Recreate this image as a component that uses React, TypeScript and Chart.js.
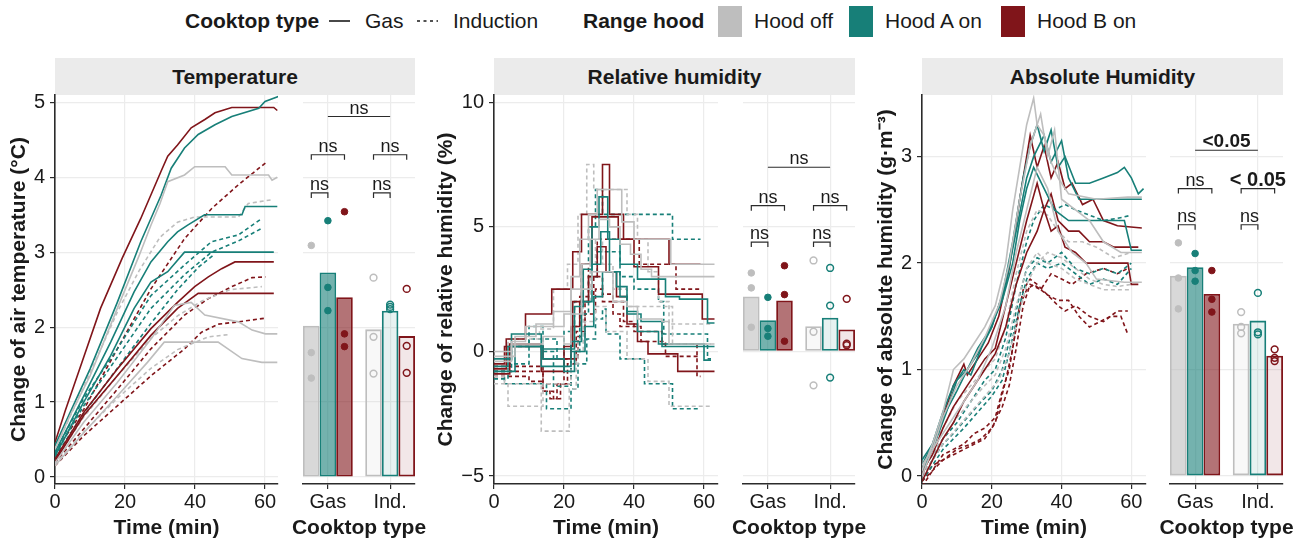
import React, { useEffect, useRef } from 'react';
import { Chart, registerables } from 'chart.js';

Chart.register(...registerables);

const FONT = "'Liberation Sans', Arial, Helvetica, sans-serif";
const TEXT = '#1a1a1a';
const AXIS = '#2b2b2b';
const GRID = '#ececec';
const GRAY = '#bebebe';
const TEAL = '#177f78';
const RED = '#80151a';
const HOOD_COLORS = [GRAY, TEAL, RED];
const HOODS = ['Hood off', 'Hood A on', 'Hood B on'];
const COOKTOPS = ['Gas', 'Ind.'];
const GROUP_WIDTH = 0.8;

// ---------------- Temperature (time series: [min, °C]) ----------------
const TEMP_GAS_OFF = [
  [[0, 0.37], [4.3, 0.82], [10, 1.35], [17.8, 2.25], [24, 2.95], [27.4, 3.36], [30, 3.65], [32.2, 3.94], [37, 4.03], [39.9, 4.14], [48.6, 4.14], [50.5, 4.03], [61, 4.03], [62, 3.96], [63.5, 4.0]],
  [[0, 0.19], [8.2, 0.73], [17.8, 1.26], [27.4, 1.84], [34.1, 2.29], [38.9, 2.33], [42.8, 2.16], [52.4, 2.07], [56.3, 1.96], [60.1, 1.91], [63.5, 1.91]],
  [[0, 0.15], [8.2, 0.59], [17.8, 1.08], [26.4, 1.53], [31.2, 1.8], [46.6, 1.8], [53.4, 1.58], [59.1, 1.53], [63.5, 1.53]],
];
const TEMP_GAS_A = [
  [[0, 0.42], [4.3, 0.86], [10, 1.44], [17.8, 2.33], [24.5, 3.14], [30.3, 3.76], [33.2, 4.12], [37, 4.39], [40.9, 4.57], [45.7, 4.7], [50.5, 4.81], [58.2, 4.92], [60, 5.01], [63.9, 5.08]],
  [[0, 0.33], [8.2, 1.08], [15.9, 1.8], [22.6, 2.47], [27.4, 2.87], [32.2, 3.14], [35, 3.27], [37.9, 3.36], [42.7, 3.5], [53.4, 3.5], [54.3, 3.61], [63.5, 3.61]],
  [[0, 0.28], [8.2, 1.0], [15.9, 1.62], [22.6, 2.25], [27.4, 2.6], [32.2, 2.74], [37, 3.0], [62.5, 3.0]],
];
const TEMP_GAS_B = [
  [[0, 0.46], [2.9, 0.88], [7.7, 1.53], [13, 2.25], [19.2, 2.92], [24.5, 3.45], [30.3, 4.08], [32.2, 4.28], [35, 4.43], [38.9, 4.66], [42.8, 4.77], [45.7, 4.86], [50.5, 4.93], [62.5, 4.93], [63.5, 4.89]],
  [[0, 0.24], [8.2, 0.86], [17.8, 1.44], [27.4, 1.98], [35, 2.33], [39.9, 2.54], [43.8, 2.67], [47.6, 2.78], [51.4, 2.87], [62.5, 2.87]],
  [[0, 0.21], [8.2, 0.82], [17.8, 1.35], [27.4, 1.89], [35, 2.25], [40.9, 2.45], [62.5, 2.45]],
];
const TEMP_IND_OFF = [
  [[0, 0.37], [8.2, 1.2], [17.8, 2.2], [24, 2.75], [30, 3.2], [35, 3.4], [40, 3.47], [52.4, 3.47], [55.2, 3.65], [62, 3.7]],
  [[0, 0.22], [8.2, 0.8], [17.8, 1.35], [27.4, 1.85], [35, 2.15], [42, 2.35], [50, 2.5], [59.1, 2.54]],
  [[0, 0.17], [8.2, 0.6], [17.8, 1.05], [27.4, 1.45], [35, 1.7], [43.8, 1.87], [49.5, 1.9]],
];
const TEMP_IND_A = [
  [[0, 0.33], [8.2, 1.05], [17.8, 1.71], [27.4, 2.42], [37, 2.83], [44.7, 3.14], [52.4, 3.23], [59.1, 3.45]],
  [[0, 0.3], [8.2, 0.95], [17.8, 1.6], [27.4, 2.25], [37, 2.7], [44.7, 3.0], [52.4, 3.15], [59.1, 3.32]],
  [[0, 0.27], [8.2, 0.85], [17.8, 1.45], [27.4, 2.05], [35, 2.5], [41, 2.8], [45, 2.95]],
];
const TEMP_IND_B = [
  [[0, 0.33], [8.2, 0.9], [17.8, 1.71], [27.4, 2.51], [37, 3.18], [44.7, 3.58], [52.4, 3.9], [60.1, 4.19]],
  [[0, 0.19], [17.8, 1.17], [27.4, 1.71], [37, 2.16], [43.8, 2.38], [50.5, 2.54], [56.3, 2.66], [60.1, 2.67]],
  [[0, 0.15], [8.2, 0.55], [17.8, 0.95], [27.4, 1.35], [37, 1.71], [41.8, 1.93], [46.6, 2.04], [52.4, 2.07], [60.1, 2.12]],
];
// bar means [off, A, B] and replicate points
const TEMP_MEAN_GAS = [2.02, 2.73, 2.4];
const TEMP_MEAN_IND = [1.97, 2.22, 1.88];
const TEMP_PTS_GAS = [[3.09, 1.66, 1.32], [3.42, 2.53, 2.22], [3.54, 1.91, 1.74]];
const TEMP_PTS_IND = [[2.66, 1.87, 1.38], [2.3, 2.27, 2.24], [2.51, 1.75, 1.39]];
const TEMP_SIG = [
  { a: [1, 1], b: [2, 1], y: 4.81, label: 'ns', tips: false },
  { a: [1, 0], b: [1, 2], y: 4.3, label: 'ns', tips: true },
  { a: [2, 0], b: [2, 2], y: 4.3, label: 'ns', tips: true },
  { a: [1, 0], b: [1, 1], y: 3.79, label: 'ns', tips: true },
  { a: [2, 0], b: [2, 1], y: 3.79, label: 'ns', tips: true },
];

// ---------------- Relative humidity (step series: [min, %]) ----------------
const RH_GAS_OFF = [
  [[0, 0], [5, 0.4], [9, 1.0], [20, 1.5], [22, 3.0], [24.5, 4.5], [27, 5.5], [29.5, 6.5], [36.5, 5.2], [40, 4.5], [50.5, 3.5], [63, 3.5]],
  [[0, -0.2], [6, 0.6], [12, 1.1], [17, 1.6], [22, 2.5], [25, 3.5], [27.5, 4.5], [30, 5.3], [33, 5.0], [36, 4.3], [39, 3.9], [42, 3.3], [45, 3.0], [63, 3.0]],
  [[0, -0.4], [5, 0.3], [14, 0.6], [20, 0.3], [22, 1.5], [25, 2.5], [28, 3.2], [34, 2.0], [38, 1.8], [41, 1.3], [48, 1.2], [50, 0.3], [63, 0.3]],
];
const RH_GAS_A = [
  [[0, -0.3], [5, 0.7], [13.5, 0.1], [20, 0.1], [23, 1.8], [25.5, 3.3], [28, 5.0], [30, 6.2], [32.5, 4.5], [36, 3.5], [41, 2.9], [49, 2.2], [53, 2.1], [61, 1.14], [63, 1.14]],
  [[0, -0.6], [4, 0.2], [13.5, -0.6], [22, 0.4], [25, 2.0], [28, 3.5], [30.5, 4.8], [33, 3.2], [36, 2.2], [38, 1.5], [42, 1.2], [48, 0.2], [63, 0.2]],
  [[0, -0.8], [6, 0.2], [14, -0.3], [20, -0.8], [23, 0], [26, 1.0], [28.5, 2.2], [31, 3.2], [35, 2.6], [38, 1.6], [41, 0.8], [47, 0.3], [60, -0.35], [62, -0.35]],
];
const RH_GAS_B = [
  [[0, -0.7], [3.5, 0.5], [9, 1.5], [16.5, 2.5], [22.5, 4.0], [25, 5.5], [31, 7.5], [33, 5.5], [37, 4.5], [40, 3.4], [47, 2.3], [59.5, 1.3], [63, 1.3]],
  [[0, -0.9], [4.5, 0.3], [13.5, -0.8], [20, 0.2], [22.5, 2.0], [25, 3.5], [28, 5.4], [35.5, 4.5], [50, 3.5], [59, 3.5]],
  [[0, -0.5], [3, 0.2], [14, -0.3], [22, 1.0], [24.5, 2.0], [27, 3.0], [29.5, 4.2], [32, 3.2], [35, 2.2], [38, 1.1], [41, 0.4], [44, -0.1], [52.5, -0.8], [63, -0.8]],
];
const RH_IND_OFF = [
  [[0, -0.9], [4, 0.5], [13, 0.9], [17, 2.5], [21, 3.5], [24, 5.5], [26.5, 7.5], [28.5, 6.5], [38, 5.5], [41, 4.5], [44, 3.2], [47, 2.0], [50, 1.1], [62, 1.1]],
  [[0, -1.3], [13.5, -3.2], [20, -3.2], [21.5, -1.5], [23.5, 0], [25.5, 2.0], [27.5, 3.5], [29, 4.5], [31, 3.5], [34, 2.5], [38, 1.8], [51, 0.3], [62, 0.3]],
  [[0, -1.0], [3, -1.3], [4, -2.2], [13, -2.2], [14, -1.3], [22, -0.5], [24, 0.5], [26, 1.2], [29, 1.8], [32, 0.8], [38, -0.3], [44, -1.2], [50, -2.2], [62, -2.2]],
];
const RH_IND_A = [
  [[0, -1.1], [4, -0.5], [10, 0.5], [18, -0.3], [20, 0.8], [23, 2.0], [25, 3.5], [27, 5.0], [29, 6.5], [31, 5.5], [51, 4.5], [59, 4.5]],
  [[0, -0.9], [3, -1.3], [15, -2.3], [22, -1.5], [24, -0.5], [26.5, 0.5], [29, 1.3], [31, 1.7], [32, 0.7], [36, -0.3], [43, -1.3], [51, -2.3], [59, -2.3]],
  [[0, -0.8], [5, 0.2], [10, 1.0], [14, 0], [17, -1.4], [22, 0], [24.5, 1.5], [27, 3.0], [29.5, 4.0], [36, 3.0], [40, 2.5], [47, 2.0], [48.5, 0.7], [60, 0.7], [61, -0.3], [62, -0.3]],
];
const RH_IND_B = [
  [[0, -0.6], [14, -1.3], [20, -0.3], [22, 1.0], [24.5, 2.2], [27, 3.5], [29.5, 4.5], [41.5, 3.5], [52, 2.5], [59, 2.5]],
  [[0, -0.8], [14, -1.6], [17, -1.9], [19, -1.3], [21, -0.5], [23.5, 0.8], [26, 2.0], [28.5, 3.0], [31, 2.3], [34, 2.0], [37, 1.2], [40, 0.8], [48, 0.3], [58, -1.0], [59, -1.0]],
  [[0, -1.0], [10, -1.2], [14, -1.6], [16, -1.9], [18, -1.3], [22, -0.3], [24, 0.6], [26, 1.5], [29, 2.5], [31, 2.0], [34, 1.5], [36, 1.0], [42, 0.4], [49, -0.2], [59, -0.2]],
];
const RH_MEAN_GAS = [2.2, 1.25, 2.04];
const RH_MEAN_IND = [1.01, 1.35, 0.88];
const RH_PTS_GAS = [[3.15, 2.55, 0.97], [2.17, 0.92, 0.61], [3.44, 2.28, 0.41]];
const RH_PTS_IND = [[3.65, 0.79, -1.36], [3.35, 1.84, -1.05], [2.11, 0.31, 0.25]];
const RH_SIG = [
  { a: [1, 1], b: [2, 1], y: 7.39, label: 'ns', tips: false },
  { a: [1, 0], b: [1, 2], y: 5.85, label: 'ns', tips: true },
  { a: [2, 0], b: [2, 2], y: 5.85, label: 'ns', tips: true },
  { a: [1, 0], b: [1, 1], y: 4.39, label: 'ns', tips: true },
  { a: [2, 0], b: [2, 1], y: 4.39, label: 'ns', tips: true },
];

// ---------------- Absolute humidity ([min, g/m3]) ----------------
const AH_GAS_OFF = [
  [[0, 0.05], [3, 0.3], [6, 0.6], [9, 1.0], [12, 1.1], [15, 1.25], [18, 1.4], [21, 1.6], [24, 2.0], [26, 2.5], [28, 2.9], [30, 3.3], [32, 3.55], [33, 3.3], [35, 3.2], [37, 2.95], [39, 2.8], [42, 2.65], [50, 2.6], [59, 2.62], [63, 2.62]],
  [[0, 0], [3, 0.25], [6, 0.55], [10, 0.85], [14, 1.05], [18, 1.3], [22, 1.6], [25, 2.0], [28, 2.6], [31, 3.1], [34, 3.4], [36, 3.0], [38, 3.25], [40, 2.6], [44, 2.5], [48, 2.4], [52, 2.2], [57, 2.1], [63, 2.1]],
  [[0, 0.1], [4, 0.3], [8, 0.5], [12, 0.7], [16, 0.9], [20, 1.2], [24, 1.6], [27, 2.1], [30, 2.5], [33, 2.9], [36, 2.7], [39, 2.3], [43, 2.1], [47, 2.0], [50, 1.85], [58, 1.82], [63, 1.82]],
];
const AH_GAS_A = [
  [[0, 0.1], [3, 0.3], [6, 0.6], [9, 0.85], [12, 1.0], [14, 0.95], [17, 1.2], [20, 1.4], [23, 1.7], [26, 2.2], [29, 2.8], [31, 3.1], [33, 3.3], [35, 3.05], [37, 3.25], [39, 2.9], [41, 3.0], [44, 2.75], [48, 2.75], [52, 2.8], [56, 2.85], [58, 2.9], [60, 2.8], [62, 2.65], [63.5, 2.7]],
  [[0, 0.05], [3, 0.25], [7, 0.6], [10, 0.9], [13, 1.0], [16, 1.15], [20, 1.4], [24, 1.8], [27, 2.3], [30, 2.8], [32, 3.0], [35, 3.2], [37, 2.95], [40, 3.15], [42, 2.8], [45, 2.6], [55, 2.6], [63, 2.6]],
  [[0, 0.15], [3, 0.3], [6, 0.55], [10, 0.8], [13, 1.0], [16, 1.2], [19, 1.35], [23, 1.65], [26, 2.0], [28, 2.4], [30, 2.7], [32, 2.9], [35, 2.7], [38, 2.5], [42, 2.4], [58, 2.4], [60, 2.12], [63, 2.12]],
];
const AH_GAS_B = [
  [[0, 0], [3, 0.25], [6, 0.55], [9, 0.85], [12, 1.05], [13, 0.95], [16, 1.1], [19, 1.25], [22, 1.5], [25, 1.95], [28, 2.6], [30, 3.0], [31, 3.2], [33, 2.9], [35, 3.1], [37, 2.8], [39, 2.95], [41, 2.7], [43, 2.75], [46, 2.55], [49, 2.6], [52, 2.4], [56, 2.35], [63, 2.33]],
  [[0, 0.05], [3, 0.2], [6, 0.45], [9, 0.65], [12, 0.8], [15, 0.95], [18, 1.1], [21, 1.2], [24, 1.6], [27, 2.0], [30, 2.4], [33, 2.75], [35, 2.5], [37, 2.65], [39, 2.4], [42, 2.3], [45, 2.3], [48, 2.2], [52, 2.2], [55, 2.15], [62, 2.15]],
  [[0, -0.05], [3, 0.15], [6, 0.35], [9, 0.5], [12, 0.7], [15, 0.85], [18, 1.0], [21, 1.15], [24, 1.4], [27, 1.8], [30, 2.1], [33, 2.3], [35, 2.5], [37, 2.3], [39, 2.35], [41, 2.15], [44, 2.1], [47, 2.0], [59, 2.0], [60, 1.8], [62, 1.8]],
];
const AH_IND_OFF = [
  [[0, 0.1], [3, 0.3], [6, 0.45], [10, 0.7], [14, 0.85], [18, 1.0], [21, 1.1], [24, 1.4], [27, 1.9], [30, 2.3], [33, 2.5], [36, 2.45], [39, 2.3], [42, 2.2], [46, 2.2], [50, 2.15], [55, 2.05], [60, 2.1]],
  [[0, 0.05], [3, 0.2], [6, 0.35], [10, 0.55], [14, 0.7], [18, 0.85], [21, 0.95], [24, 1.2], [27, 1.6], [30, 1.95], [33, 2.1], [36, 2.0], [40, 1.95], [44, 1.85], [48, 1.8], [52, 1.75], [60, 1.75]],
  [[0, 0], [3, 0.15], [6, 0.3], [10, 0.45], [14, 0.6], [18, 0.75], [22, 0.9], [25, 1.15], [28, 1.55], [30, 1.8], [33, 2.0], [36, 2.1], [40, 2.05], [44, 1.95], [48, 1.85], [52, 1.8], [56, 1.78], [60, 1.8]],
];
const AH_IND_A = [
  [[0, 0.05], [3, 0.2], [6, 0.35], [10, 0.5], [14, 0.7], [18, 0.9], [21, 1.0], [24, 1.3], [27, 1.8], [30, 2.2], [32, 2.4], [35, 2.55], [38, 2.5], [41, 2.55], [44, 2.5], [48, 2.45], [52, 2.4], [56, 2.42], [60, 2.45]],
  [[0, 0], [3, 0.15], [6, 0.3], [9, 0.4], [13, 0.55], [17, 0.7], [20, 0.8], [23, 1.0], [26, 1.4], [28, 1.7], [30, 1.95], [33, 2.05], [36, 2.0], [40, 2.1], [44, 1.95], [48, 1.9], [52, 1.95], [56, 1.9], [60, 2.0]],
  [[0, -0.05], [3, 0.1], [6, 0.25], [9, 0.35], [12, 0.45], [16, 0.6], [20, 0.75], [23, 0.9], [26, 1.3], [28, 1.6], [30, 1.85], [33, 2.0], [36, 1.95], [40, 2.0], [44, 1.9], [48, 1.8], [52, 1.85], [56, 1.8], [60, 1.95]],
];
const AH_IND_B = [
  [[0, -0.05], [3, 0.05], [6, 0.15], [10, 0.25], [14, 0.3], [17, 0.35], [20, 0.45], [23, 0.65], [25, 0.85], [27, 1.2], [29, 1.6], [31, 1.8], [34, 1.75], [37, 1.9], [40, 1.85], [43, 1.8], [47, 1.9], [52, 1.95], [56, 1.9], [59, 1.95]],
  [[0, -0.1], [3, 0.05], [6, 0.2], [9, 0.25], [12, 0.3], [15, 0.4], [18, 0.45], [21, 0.55], [23, 0.8], [25, 1.0], [27, 1.4], [29, 1.75], [31, 1.85], [33, 1.8], [36, 1.7], [39, 1.6], [41, 1.55], [44, 1.6], [48, 1.5], [52, 1.45], [56, 1.55], [59, 1.55]],
  [[0, -0.05], [3, 0.1], [6, 0.15], [9, 0.2], [12, 0.25], [15, 0.3], [18, 0.35], [21, 0.5], [24, 0.9], [26, 1.2], [28, 1.6], [30, 1.75], [32, 1.8], [34, 1.75], [36, 1.7], [39, 1.65], [42, 1.65], [45, 1.5], [48, 1.4], [51, 1.45], [54, 1.5], [57, 1.5], [59, 1.33]],
];
const AH_MEAN_GAS = [1.88, 1.96, 1.71];
const AH_MEAN_IND = [1.43, 1.46, 1.13];
const AH_PTS_GAS = [[2.19, 1.86, 1.57], [2.09, 1.93, 1.83], [1.93, 1.66, 1.54]];
const AH_PTS_IND = [[1.54, 1.4, 1.34], [1.72, 1.35, 1.33], [1.19, 1.11, 1.08]];
const AH_SIG = [
  { a: [1, 1], b: [2, 1], y: 3.06, label: '<0.05', tips: false, bold: true, size: 19 },
  { a: [1, 0], b: [1, 2], y: 2.7, label: 'ns', tips: true },
  { a: [2, 0], b: [2, 2], y: 2.7, label: '< 0.05', tips: true, bold: true, size: 20 },
  { a: [1, 0], b: [1, 1], y: 2.36, label: 'ns', tips: true },
  { a: [2, 0], b: [2, 1], y: 2.36, label: 'ns', tips: true },
];

// ---------------- panel definitions ----------------
const PANELS = [
  {
    title: 'Temperature', yTitle: 'Change of air temperature (°C)',
    yMin: -0.093, yMax: 5.097, yStep: 1, xMax: 63.7, stepped: false,
    gas: [TEMP_GAS_OFF, TEMP_GAS_A, TEMP_GAS_B], ind: [TEMP_IND_OFF, TEMP_IND_A, TEMP_IND_B],
    meanGas: TEMP_MEAN_GAS, meanInd: TEMP_MEAN_IND, ptsGas: TEMP_PTS_GAS, ptsInd: TEMP_PTS_IND, sig: TEMP_SIG,
  },
  {
    title: 'Relative humidity', yTitle: 'Change of relative humidity (%)',
    yMin: -5.32, yMax: 10.29, yStep: 5, xMax: 64, stepped: true,
    gas: [RH_GAS_OFF, RH_GAS_A, RH_GAS_B], ind: [RH_IND_OFF, RH_IND_A, RH_IND_B],
    meanGas: RH_MEAN_GAS, meanInd: RH_MEAN_IND, ptsGas: RH_PTS_GAS, ptsInd: RH_PTS_IND, sig: RH_SIG,
  },
  {
    title: 'Absolute Humidity', yTitle: 'Change of absolute humidity (g·m⁻³)',
    yMin: -0.075, yMax: 3.579, yStep: 1, xMax: 64.2, stepped: false,
    gas: [AH_GAS_OFF, AH_GAS_A, AH_GAS_B], ind: [AH_IND_OFF, AH_IND_A, AH_IND_B],
    meanGas: AH_MEAN_GAS, meanInd: AH_MEAN_IND, ptsGas: AH_PTS_GAS, ptsInd: AH_PTS_IND, sig: AH_SIG,
  },
];

// layout (pixels)
const CANVAS_TOP = 80;
const PLOT_TOP = 95;
const PLOT_BOTTOM = 484;
const PAGE_H = 542;
const LAYOUT = [
  { lineCanvas: 0, plotLeft: 55, plotRight: 278, barCanvas: 285, barLeft: 303, barRight: 415, barCanvasRight: 435, yTitlePad: 7 },
  { lineCanvas: 430, plotLeft: 494, plotRight: 718, barCanvas: 722, barLeft: 743, barRight: 855, barCanvasRight: 875, yTitlePad: 4 },
  { lineCanvas: 862, plotLeft: 922, plotRight: 1146, barCanvas: 1150, barLeft: 1170, barRight: 1283, barCanvasRight: 1306, yTitlePad: 12 },
];

const tickFont = { family: FONT, size: 20 };
const titleFont = { family: FONT, size: 21, weight: 'bold' as const };

function rgba(hex: string, a: number) {
  const n = parseInt(hex.slice(1), 16);
  return `rgba(${(n >> 16) & 255},${(n >> 8) & 255},${n & 255},${a})`;
}
const fmt = (v: any) => String(v).replace('-', '\u2212');

function LineChart({ p, L }: any) {
  const ref = useRef<HTMLCanvasElement>(null);
  const width = L.plotRight + 12 - L.lineCanvas;
  const height = PAGE_H - CANVAS_TOP;
  useEffect(() => {
    const datasets: any[] = [];
    const add = (groups: any[], dash: number[]) => {
      groups.forEach((reps: any[], h: number) => {
        reps.forEach((series: number[][]) => {
          datasets.push({
            data: series.map(([x, y]) => ({ x, y })),
            borderColor: HOOD_COLORS[h],
            borderWidth: 1.6,
            borderDash: dash,
            pointRadius: 0,
            stepped: p.stepped ? 'before' : false,
            tension: 0,
            fill: false,
          });
        });
      });
    };
    add(p.gas, []);
    add(p.ind, [4, 3]);
    const chart = new Chart(ref.current as HTMLCanvasElement, {
      type: 'line',
      data: { datasets },
      options: {
        animation: false,
        responsive: false,
        devicePixelRatio: 1,
        layout: { padding: { top: PLOT_TOP - CANVAS_TOP, right: width - (L.plotRight - L.lineCanvas), bottom: 0, left: 0 } },
        plugins: { legend: { display: false }, tooltip: { enabled: false } },
        scales: {
          x: {
            type: 'linear', min: 0, max: p.xMax,
            ticks: { stepSize: 20, includeBounds: false, font: tickFont, color: TEXT, padding: 1, maxRotation: 0 },
            grid: { color: GRID, lineWidth: 1.2, tickColor: AXIS, tickLength: 5, tickWidth: 1.2 },
            border: { color: AXIS, width: 1.6 },
            title: { display: true, text: 'Time (min)', font: titleFont, color: TEXT, padding: { top: 0, bottom: 1 } },
            afterFit: (s: any) => { s.height = PAGE_H - PLOT_BOTTOM; s.paddingLeft = 0; s.paddingRight = 0; },
          },
          y: {
            type: 'linear', min: p.yMin, max: p.yMax,
            ticks: { stepSize: p.yStep, includeBounds: false, font: tickFont, color: TEXT, padding: 5, callback: (v: any) => fmt(v) },
            grid: { color: GRID, lineWidth: 1.2, tickColor: AXIS, tickLength: 5, tickWidth: 1.2 },
            border: { color: AXIS, width: 1.6 },
            title: { display: true, text: p.yTitle, font: titleFont, color: TEXT, padding: { top: L.yTitlePad, bottom: 0 } },
            afterFit: (s: any) => { s.width = L.plotLeft - L.lineCanvas; s.paddingTop = 0; s.paddingBottom = 0; },
          },
        },
      } as any,
    });
    return () => chart.destroy();
  }, []);
  return <canvas ref={ref} width={width} height={height} style={{ position: 'absolute', left: L.lineCanvas, top: CANVAS_TOP }} />;
}

function makeBracketPlugin(items: any[]) {
  return {
    id: 'sigBrackets',
    afterDatasetsDraw(chart: any) {
      const { ctx } = chart;
      const xs = chart.scales.x;
      const ys = chart.scales.y;
      const pos = (r: number[]) => xs.getPixelForValue(r[0] + ((r[1] - 1) * GROUP_WIDTH) / 3);
      ctx.save();
      ctx.strokeStyle = AXIS;
      ctx.lineWidth = 1.2;
      ctx.fillStyle = TEXT;
      ctx.textAlign = 'center';
      ctx.textBaseline = 'alphabetic';
      items.forEach((it) => {
        const x1 = pos(it.a);
        const x2 = pos(it.b);
        const y = ys.getPixelForValue(it.y);
        ctx.beginPath();
        if (it.tips) {
          ctx.moveTo(x1, y + 5); ctx.lineTo(x1, y); ctx.lineTo(x2, y); ctx.lineTo(x2, y + 5);
        } else {
          ctx.moveTo(x1, y); ctx.lineTo(x2, y);
        }
        ctx.stroke();
        ctx.font = `${it.bold ? 'bold ' : ''}${it.size || 18}px ${FONT}`;
        ctx.fillText(it.label, (x1 + x2) / 2, y - 3);
      });
      ctx.restore();
    },
  };
}

// x-axis title for the narrow bar panels, drawn without width compression
const barTitlePlugin = {
  id: 'barTitle',
  afterDraw(chart: any) {
    const { ctx, chartArea } = chart;
    ctx.save();
    ctx.font = `bold 21px ${FONT}`;
    ctx.fillStyle = TEXT;
    ctx.textAlign = 'center';
    ctx.textBaseline = 'middle';
    ctx.fillText('Cooktop type', (chartArea.left + chartArea.right) / 2, chart.height - 1 - 12.6);
    ctx.restore();
  },
};

function BarChart({ p, L }: any) {
  const ref = useRef<HTMLCanvasElement>(null);
  const width = L.barCanvasRight - L.barCanvas;
  const height = PAGE_H - CANVAS_TOP;
  useEffect(() => {
    const datasets: any[] = [];
    HOODS.forEach((h, i) => {
      datasets.push({
        type: 'bar',
        label: h,
        data: [{ x: 1, y: p.meanGas[i] }, { x: 2, y: p.meanInd[i] }],
        backgroundColor: [rgba(HOOD_COLORS[i], 0.6), rgba(HOOD_COLORS[i], 0.1)],
        borderColor: HOOD_COLORS[i],
        borderWidth: 1.8,
        borderSkipped: false,
        categoryPercentage: GROUP_WIDTH,
        barPercentage: 1,
        order: 2,
      });
    });
    HOODS.forEach((h, i) => {
      const off = ((i - 1) * GROUP_WIDTH) / 3;
      datasets.push({
        type: 'scatter',
        data: p.ptsGas[i].map((v: number) => ({ x: 1 + off, y: v })),
        pointRadius: 3.3,
        pointBorderWidth: 1,
        backgroundColor: HOOD_COLORS[i],
        borderColor: HOOD_COLORS[i],
        order: 1,
      });
      datasets.push({
        type: 'scatter',
        data: p.ptsInd[i].map((v: number) => ({ x: 2 + off, y: v })),
        pointRadius: 3.4,
        pointBorderWidth: 1.5,
        backgroundColor: 'rgba(255,255,255,0)',
        borderColor: HOOD_COLORS[i],
        order: 1,
      });
    });
    const chart = new Chart(ref.current as HTMLCanvasElement, {
      type: 'bar',
      data: { datasets },
      plugins: [makeBracketPlugin(p.sig), barTitlePlugin],
      options: {
        animation: false,
        responsive: false,
        devicePixelRatio: 1,
        layout: { padding: { top: PLOT_TOP - CANVAS_TOP, left: L.barLeft - L.barCanvas, right: L.barCanvasRight - L.barRight, bottom: 0 } },
        plugins: { legend: { display: false }, tooltip: { enabled: false } },
        scales: {
          x: {
            type: 'linear', min: 0.6, max: 2.4, offset: false,
            afterBuildTicks: (s: any) => { s.ticks = [{ value: 1 }, { value: 2 }]; },
            ticks: { font: tickFont, color: TEXT, padding: 1, maxRotation: 0, autoSkip: false, callback: (v: any) => COOKTOPS[Math.round(v) - 1] },
            grid: { color: GRID, lineWidth: 1.2, tickColor: AXIS, tickLength: 5, tickWidth: 1.2, offset: false },
            border: { color: AXIS, width: 1.6 },
            title: { display: false },
            afterFit: (s: any) => { s.height = PAGE_H - PLOT_BOTTOM; s.paddingLeft = 0; s.paddingRight = 0; },
          },
          y: {
            type: 'linear', min: p.yMin, max: p.yMax,
            ticks: { stepSize: p.yStep, includeBounds: false, display: false },
            grid: { color: GRID, lineWidth: 1.2, drawTicks: false },
            border: { display: false },
            afterFit: (s: any) => { s.width = 0; s.paddingTop = 0; s.paddingBottom = 0; },
          },
        },
      } as any,
    });
    return () => chart.destroy();
  }, []);
  return <canvas ref={ref} width={width} height={height} style={{ position: 'absolute', left: L.barCanvas, top: CANVAS_TOP }} />;
}

function Legend() {
  const txt = { position: 'absolute' as const, top: 8, lineHeight: '26px', fontSize: 21, fontFamily: FONT, color: TEXT, whiteSpace: 'nowrap' as const };
  const keys = [
    { color: GRAY, left: 718, text: 'Hood off', tl: 754 },
    { color: TEAL, left: 849, text: 'Hood A on', tl: 885 },
    { color: RED, left: 1001, text: 'Hood B on', tl: 1037 },
  ];
  return (
    <>
      <div style={{ ...txt, left: 185, fontWeight: 'bold' }}>Cooktop type</div>
      <svg style={{ position: 'absolute', left: 328, top: 15 }} width={24} height={12}>
        <line x1={1} y1={6} x2={22} y2={6} stroke={TEXT} strokeWidth={1.6} />
      </svg>
      <div style={{ ...txt, left: 365 }}>Gas</div>
      <svg style={{ position: 'absolute', left: 416, top: 15 }} width={24} height={12}>
        <line x1={1} y1={6} x2={22} y2={6} stroke={TEXT} strokeWidth={1.6} strokeDasharray="3,3.5" />
      </svg>
      <div style={{ ...txt, left: 453 }}>Induction</div>
      <div style={{ ...txt, left: 583, fontWeight: 'bold' }}>Range hood</div>
      {keys.map((k) => (
        <React.Fragment key={k.text}>
          <div style={{ position: 'absolute', left: k.left, top: 6, width: 24, height: 31, background: k.color }} />
          <div style={{ ...txt, left: k.tl }}>{k.text}</div>
        </React.Fragment>
      ))}
    </>
  );
}

export default function App() {
  return (
    <div style={{ position: 'fixed', left: 0, top: 0, width: 1306, height: 542, background: '#fff', overflow: 'hidden' }}>
      <Legend />
      {PANELS.map((p, i) => {
        const L = LAYOUT[i];
        return (
          <div
            key={'strip' + i}
            style={{
              position: 'absolute', left: L.plotLeft, top: 58, width: L.barRight - L.plotLeft, height: 37,
              background: '#ebebeb', color: TEXT, fontFamily: FONT, fontWeight: 'bold', fontSize: 21,
              lineHeight: '37px', textAlign: 'center',
            }}
          >
            {p.title}
          </div>
        );
      })}
      {PANELS.map((p, i) => (
        <React.Fragment key={'p' + i}>
          <LineChart p={p} L={LAYOUT[i]} />
          <BarChart p={p} L={LAYOUT[i]} />
        </React.Fragment>
      ))}
    </div>
  );
}
